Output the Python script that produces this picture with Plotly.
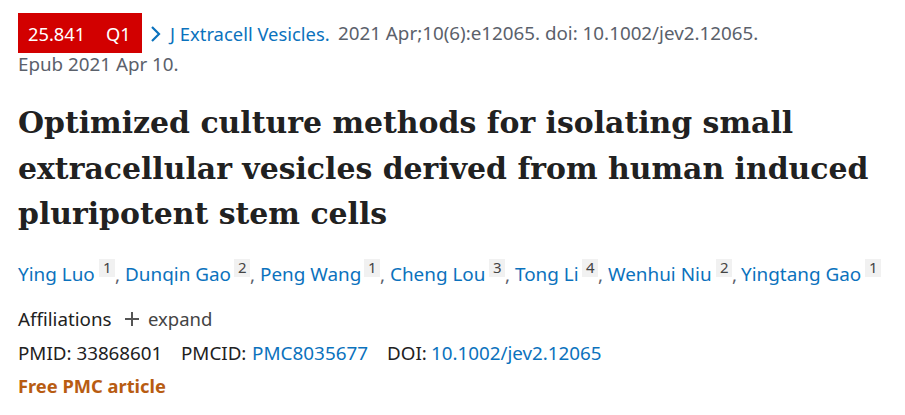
import plotly.graph_objects as go

BODY = "Noto Sans"
SERIF = "DejaVu Serif"
BLUE = "#0b72bd"
GREY = "#5b616b"
DARK = "#212121"

impact = "25.841"
quartile = "Q1"
journal = "J Extracell Vesicles."
citation = "2021 Apr;10(6):e12065. doi: 10.1002/jev2.12065."
epub = "Epub 2021 Apr 10."
title_lines = ["Optimized culture methods for isolating small",
               "extracellular vesicles derived from human induced",
               "pluripotent stem cells"]
authors = ["Ying Luo", "Dunqin Gao", "Peng Wang", "Cheng Lou", "Tong Li", "Wenhui Niu", "Yingtang Gao"]
affil = ["1", "2", "1", "3", "4", "2", "1"]
author_x = [18, 125, 260, 390, 515, 608, 741]
sup_x = [99, 234, 364, 489, 582, 716, 865]
comma_x = [115, 250, 380, 505, 598, 732]

anns = []
def txt(x, y, s, color=DARK, size=18.8, family=BODY, anchor="left"):
    anns.append(dict(x=x, y=y, text=s, showarrow=False, xanchor=anchor, yanchor="middle",
                     xref="x", yref="y", font=dict(family=family, size=size, color=color),
                     borderpad=0, borderwidth=0))

shapes = [dict(type="rect", x0=18, x1=142, y0=13, y1=53, fillcolor="#d20000", line_width=0, layer="below"),
          dict(type="path", path="M 152 27 L 159 34 L 152 41", line=dict(color=BLUE, width=2.2)),
          dict(type="line", x0=125, x1=139, y0=319, y1=319, line=dict(color="#555", width=2)),
          dict(type="line", x0=132, x1=132, y0=312, y1=326, line=dict(color="#555", width=2))]

txt(28, 33, impact, "white", 18.3)
txt(106, 33, quartile, "white", 18.3)
txt(168, 33, journal, BLUE, 18.4)
txt(338, 33, citation, GREY)
txt(18, 64, epub, GREY)
for y, line in zip([122, 168, 213], title_lines):
    txt(18, y, "<b>%s</b>" % line, DARK, 29.9, SERIF)
for i, (a, ax, sx, s) in enumerate(zip(authors, author_x, sup_x, affil)):
    txt(ax, 274, a, BLUE, 18.9)
    shapes.append(dict(type="rect", x0=sx, x1=sx+16, y0=259, y1=277, fillcolor="#f1f1f1",
                       line_width=0, layer="below"))
    txt(sx+8, 267, s, "#444", 15, BODY, "center")
for cx in comma_x:
    txt(cx, 275, ",", GREY)
txt(18, 319, "Affiliations")
txt(148, 318.5, "expand", "#444", 18.5)
txt(18, 353, "PMID: 33868601")
txt(181, 353, "PMCID:")
txt(252, 353, "PMC8035677", BLUE, 18.9)
txt(387, 353, "DOI:")
txt(431, 353, "10.1002/jev2.12065", BLUE)
txt(18, 385.5, "<b>Free PMC article</b>", "#b85c12", 18.3)

fig = go.Figure()
fig.update_layout(width=905, height=415, margin=dict(l=0, r=0, t=0, b=0),
                  paper_bgcolor="white", plot_bgcolor="white", showlegend=False,
                  annotations=anns, shapes=shapes,
                  xaxis=dict(range=[0, 905], visible=False, fixedrange=True),
                  yaxis=dict(range=[415, 0], visible=False, fixedrange=True))
fig.write_html("out.html", config=dict(displayModeBar=False),
               post_script="document.body.style.margin='0';document.body.style.overflow='hidden';")
